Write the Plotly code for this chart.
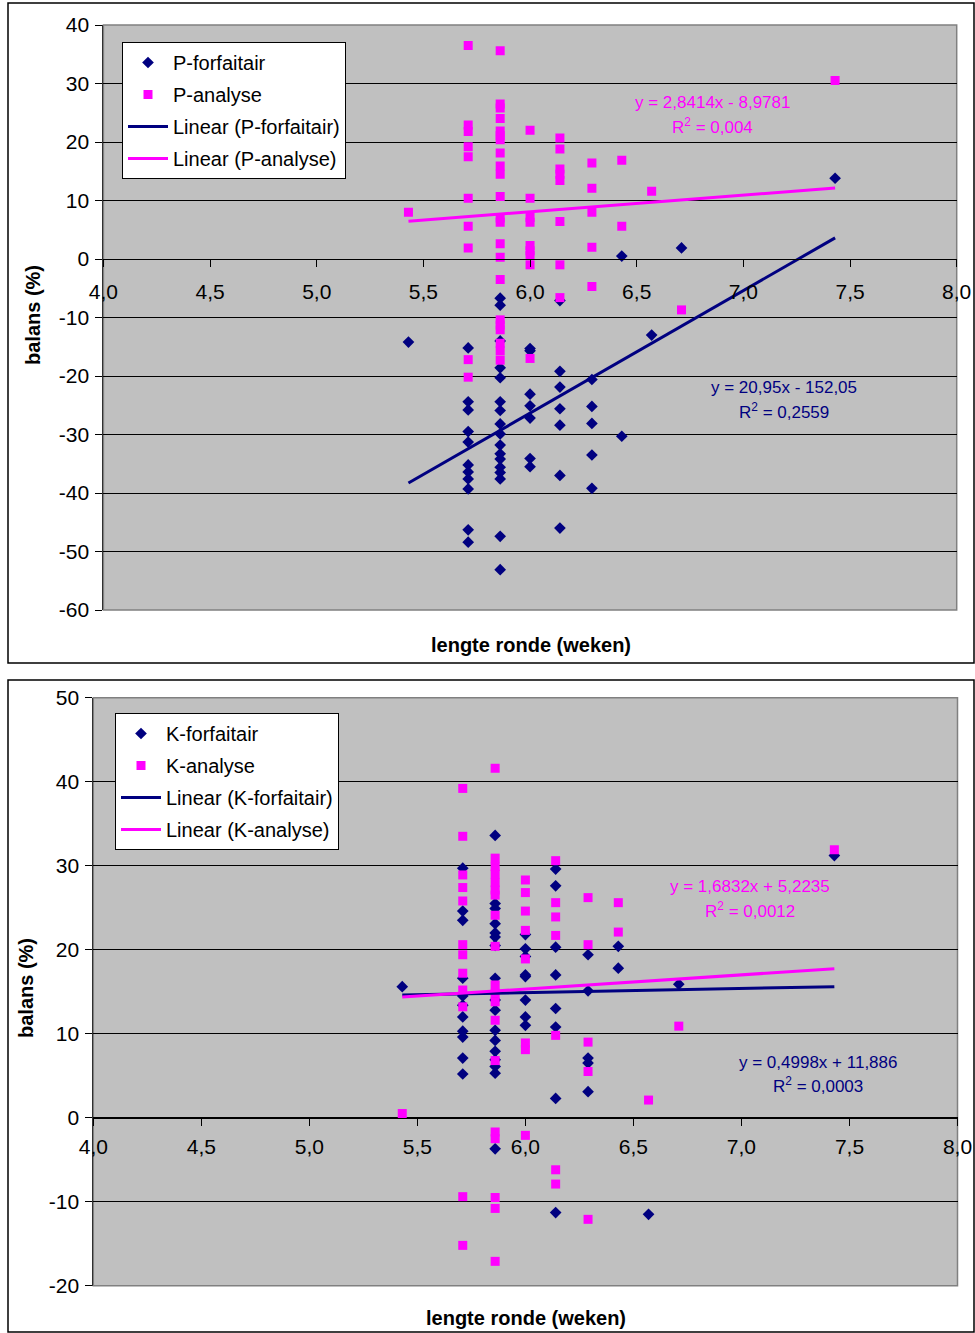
import plotly.graph_objects as go

# ---------------- data ----------------
NAVY = "#000080"
MAGENTA = "#FF00FF"
FONT = "Liberation Sans, Arial, sans-serif"

# P chart (top): balans (%) per lengte ronde (weken)
p_forf = {
    5.43: [-14.2],
    5.71: [-15.2, -24.4, -25.8, -29.5, -31.3, -35.2, -36.4, -37.6, -39.3, -46.3, -48.4],
    5.86: [-6.7, -7.9, -14.0, -18.6, -20.3, -24.4, -25.9, -28.2, -29.9, -31.8, -33.3,
           -34.2, -35.6, -36.5, -37.6, -47.4, -53.1],
    6.00: [-15.3, -15.7, -23.1, -25.1, -27.2, -34.1, -35.5],
    6.14: [-7.1, -19.2, -21.9, -25.6, -28.4, -37.0, -46.0],
    6.29: [-20.6, -25.2, -28.1, -33.5, -39.2],
    6.43: [0.5, -30.3],
    6.57: [-13.0],
    6.71: [1.9],
    7.43: [13.8],
}
p_anal = {
    5.43: [8.0],
    5.71: [36.5, 22.9, 21.8, 19.2, 17.5, 10.4, 5.6, 1.9, -17.2, -20.2],
    5.86: [35.6, 26.5, 25.8, 24.0, 21.9, 21.1, 20.4, 18.1, 15.9, 14.5, 10.7, 7.0, 6.3,
           2.6, 0.3, -3.5, -10.4, -11.3, -12.1, -14.4, -15.7, -17.3],
    6.00: [22.0, 10.4, 7.1, 6.3, 2.3, 1.4, 0.6, -1.0, -17.0],
    6.14: [20.7, 18.8, 15.4, 14.5, 13.4, 6.4, -1.0, -6.6],
    6.29: [16.4, 12.1, 8.0, 2.0, -4.7],
    6.43: [16.9, 5.6],
    6.57: [11.6],
    6.71: [-8.7],
    7.43: [30.5],
}

# K chart (bottom)
k_forf = {
    5.43: [15.6],
    5.71: [29.7, 24.6, 23.5, 16.6, 14.5, 13.4, 12.0, 10.3, 9.6, 7.1, 5.2],
    5.86: [33.6, 25.5, 24.9, 23.1, 22.0, 21.5, 20.5, 16.6, 14.0, 12.8, 10.4, 9.2, 7.9,
           6.9, 6.1, 5.3, -3.7],
    6.00: [21.8, 20.1, 19.2, 17.0, 16.8, 14.0, 12.0, 11.0],
    6.14: [29.6, 27.6, 20.3, 17.0, 13.0, 10.8, 2.3, -11.3],
    6.29: [19.4, 15.1, 7.1, 6.5, 3.1],
    6.43: [20.4, 17.8],
    6.57: [-11.5],
    6.71: [15.9],
    7.43: [31.2],
}
k_anal = {
    5.43: [0.5],
    5.71: [39.2, 33.5, 28.9, 27.4, 25.8, 20.6, 19.4, 17.2, 15.2, 13.2, -9.4, -15.2],
    5.86: [41.6, 30.9, 29.9, 29.0, 28.0, 27.1, 26.5, 24.1, 20.4, 15.8, 14.8, 13.8, 11.6,
           6.8, -1.7, -2.5, -9.5, -10.8, -17.1],
    6.00: [28.3, 26.8, 24.6, 22.3, 18.9, 8.9, 8.1, -2.1],
    6.14: [30.6, 25.6, 23.9, 21.7, 9.8, -6.2, -7.9],
    6.29: [26.2, 20.6, 9.0, 5.5, -12.1],
    6.43: [25.6, 22.1],
    6.57: [2.1],
    6.71: [10.9],
    7.43: [31.9],
}

# linear trend coefficients (slope, intercept) as printed on the charts
p_forf_fit = (20.95, -152.05)
p_anal_fit = (2.8414, -8.9781)
k_forf_fit = (0.4998, 11.886)
k_anal_fit = (1.6832, 5.2235)
fit_x = [5.43, 7.43]

eq_p_forf = ("y = 20,95x - 152,05", "R<sup>2</sup> = 0,2559")
eq_p_anal = ("y = 2,8414x - 8,9781", "R<sup>2</sup> = 0,004")
eq_k_forf = ("y = 0,4998x + 11,886", "R<sup>2</sup> = 0,0003")
eq_k_anal = ("y = 1,6832x + 5,2235", "R<sup>2</sup> = 0,0012")

x_ticks = [4.0, 4.5, 5.0, 5.5, 6.0, 6.5, 7.0, 7.5, 8.0]
x_ticktext = ["4,0", "4,5", "5,0", "5,5", "6,0", "6,5", "7,0", "7,5", "8,0"]
p_yticks = [40, 30, 20, 10, 0, -10, -20, -30, -40, -50, -60]
p_yticktext = ["40", "30", "20", "10", "0", "-10", "-20", "-30", "-40", "-50", "-60"]
k_yticks = [50, 40, 30, 20, 10, 0, -10, -20]
k_yticktext = ["50", "40", "30", "20", "10", "0", "-10", "-20"]

# ---------------- helpers ----------------
W, H = 975, 1333


def px(v):
    return v / W


def py(v):
    return 1 - v / H


def flat(d):
    xs, ys = [], []
    for x, vals in d.items():
        for v in vals:
            xs.append(x)
            ys.append(v)
    return xs, ys


def fit_line(coef):
    a, b = coef
    return [a * x + b for x in fit_x]


fig = go.Figure()


def add_series(d_forf, d_anal, fit_f, fit_a, names, xa, ya, legend):
    xs, ys = flat(d_forf)
    fig.add_trace(go.Scatter(x=xs, y=ys, mode="markers", name=names[0],
                             marker=dict(symbol="diamond", size=9, color=NAVY, line=dict(width=0)),
                             xaxis=xa, yaxis=ya, legend=legend, legendgroup=names[0]))
    xs, ys = flat(d_anal)
    fig.add_trace(go.Scatter(x=xs, y=ys, mode="markers", name=names[1],
                             marker=dict(symbol="square", size=9, color=MAGENTA, line=dict(width=0)),
                             xaxis=xa, yaxis=ya, legend=legend, legendgroup=names[1]))
    fig.add_trace(go.Scatter(x=fit_x, y=fit_line(fit_f), mode="lines", name=names[2],
                             line=dict(color=NAVY, width=3),
                             xaxis=xa, yaxis=ya, legend=legend, legendgroup=names[2]))
    fig.add_trace(go.Scatter(x=fit_x, y=fit_line(fit_a), mode="lines", name=names[3],
                             line=dict(color=MAGENTA, width=3),
                             xaxis=xa, yaxis=ya, legend=legend, legendgroup=names[3]))


add_series(p_forf, p_anal, p_forf_fit, p_anal_fit,
           ["P-forfaitair", "P-analyse", "Linear (P-forfaitair)", "Linear (P-analyse)"],
           "x", "y", "legend")
add_series(k_forf, k_anal, k_forf_fit, k_anal_fit,
           ["K-forfaitair", "K-analyse", "Linear (K-forfaitair)", "Linear (K-analyse)"],
           "x2", "y2", "legend2")

# ---------------- axes ----------------
top_dom_x = [px(103.4), px(956.7)]
top_dom_y = [py(610), py(25)]
bot_dom_x = [px(93.3), px(957.5)]
bot_dom_y = [py(1285.7), py(697.7)]


def y_at_zero(dom, lo, hi):
    return dom[0] + (0 - lo) / (hi - lo) * (dom[1] - dom[0])


xcommon = dict(range=[4.0, 8.0], tickvals=x_ticks, ticktext=x_ticktext, showgrid=False,
               zeroline=False, showline=True, linecolor="black", linewidth=1,
               ticks="outside", ticklen=7, tickcolor="black",
               tickfont=dict(family=FONT, size=21, color="black"), anchor="free",
               automargin=False)
ycommon = dict(showgrid=True, gridcolor="black", gridwidth=1, zeroline=True,
               zerolinecolor="black", zerolinewidth=1, showline=True, linecolor="#303030",
               linewidth=1, ticks="outside", ticklen=7, tickcolor="black",
               tickfont=dict(family=FONT, size=21, color="black"), automargin=False,
               ticklabelstandoff=2)

fig.update_layout(
    xaxis=dict(domain=top_dom_x, position=y_at_zero(top_dom_y, -60, 40),
               ticklabelstandoff=7, **xcommon),
    yaxis=dict(domain=top_dom_y, range=[-60, 40], tickvals=p_yticks, ticktext=p_yticktext,
               anchor="x", **ycommon),
    xaxis2=dict(domain=bot_dom_x, position=y_at_zero(bot_dom_y, -20, 50),
                ticklabelstandoff=3, **xcommon),
    yaxis2=dict(domain=bot_dom_y, range=[-20, 50], tickvals=k_yticks, ticktext=k_yticktext,
                anchor="x2", **ycommon),
)

legend_common = dict(bgcolor="white", bordercolor="black", borderwidth=1,
                     font=dict(family=FONT, size=20, color="black"),
                     xanchor="left", yanchor="top", traceorder="grouped",
                     tracegroupgap=3, itemwidth=40, itemclick=False)
fig.update_layout(
    legend=dict(x=px(122), y=py(42), **legend_common),
    legend2=dict(x=px(115), y=py(713), **legend_common),
)

# ---------------- frames, plot borders ----------------
shapes = [
    dict(type="rect", xref="paper", yref="paper", x0=px(8), x1=px(974), y0=py(663), y1=py(3),
         line=dict(color="black", width=1.5), layer="below"),
    dict(type="rect", xref="paper", yref="paper", x0=px(8), x1=px(974), y0=py(1332), y1=py(680),
         line=dict(color="black", width=1.5), layer="below"),
    dict(type="rect", xref="x domain", yref="y domain", x0=0, x1=1, y0=0, y1=1,
         line=dict(color="#808080", width=1.5), layer="below"),
    dict(type="rect", xref="x2 domain", yref="y2 domain", x0=0, x1=1, y0=0, y1=1,
         line=dict(color="#808080", width=1.5), layer="below"),
]
fig.update_layout(shapes=shapes)

# ---------------- text ----------------
ann = []


def eq(lines, x, y1, y2, color, xa, ya):
    for text, yy in zip(lines, (y1, y2)):
        ann.append(dict(text=text, x=x, y=yy, xref=xa, yref=ya, showarrow=False,
                        font=dict(family=FONT, size=17, color=color),
                        xanchor="center", yanchor="middle"))


eq(eq_p_anal, 6.855, 26.7, 22.7, MAGENTA, "x", "y")
eq(eq_p_forf, 7.19, -22.05, -26.0, NAVY, "x", "y")
eq(eq_k_anal, 7.04, 27.5, 24.7, MAGENTA, "x2", "y2")
eq(eq_k_forf, 7.353, 6.63, 3.89, NAVY, "x2", "y2")

title_font = dict(family=FONT, size=20, color="black")
for text, x, y, ang in [("balans (%)", 33, 315, -90), ("balans (%)", 26, 988, -90),
                        ("lengte ronde (weken)", 531, 645, 0),
                        ("lengte ronde (weken)", 526, 1318, 0)]:
    ann.append(dict(text="<b>" + text + "</b>", x=px(x), y=py(y), xref="paper", yref="paper",
                    showarrow=False, textangle=ang, font=title_font,
                    xanchor="center", yanchor="middle"))

fig.update_layout(
    annotations=ann,
    width=W, height=H,
    margin=dict(l=0, r=0, t=0, b=0, autoexpand=False),
    paper_bgcolor="white",
    plot_bgcolor="#C0C0C0",
    showlegend=True,
)

fig.write_html("out.html")
